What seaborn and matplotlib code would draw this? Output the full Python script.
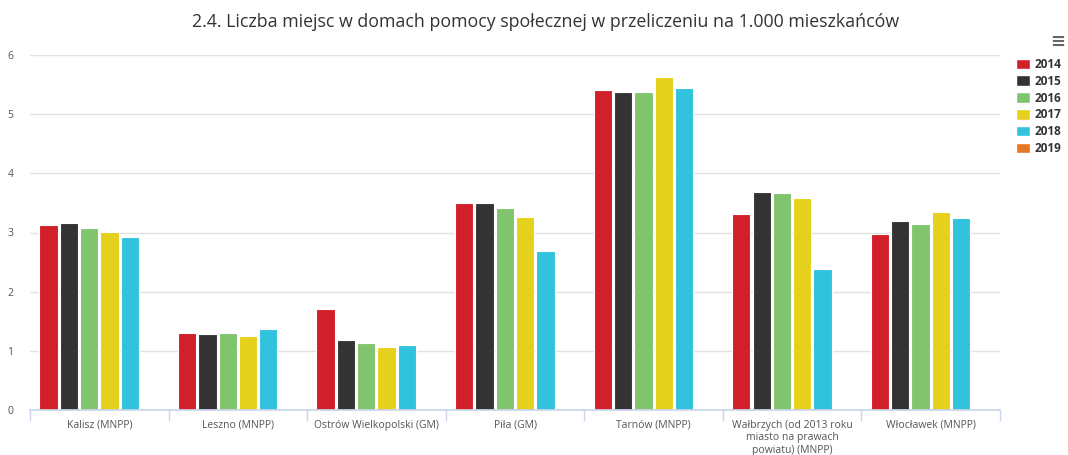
import numpy as np
import pandas as pd
import matplotlib
matplotlib.use("Agg")
import matplotlib.pyplot as plt
from matplotlib.patches import Patch
import seaborn as sns

categories = ["Kalisz (MNPP)", "Leszno (MNPP)", "Ostrów Wielkopolski (GM)", "Piła (GM)",
              "Tarnów (MNPP)", "Wałbrzych (od 2013 roku\nmiasto na prawach\npowiatu) (MNPP)",
              "Włocławek (MNPP)"]
years = ["2014", "2015", "2016", "2017", "2018", "2019"]
v2014 = [3.13, 1.30, 1.71, 3.50, 5.41, 3.31, 2.98]
v2015 = [3.16, 1.28, 1.18, 3.50, 5.37, 3.69, 3.19]
v2016 = [3.08, 1.30, 1.13, 3.41, 5.37, 3.66, 3.15]
v2017 = [3.01, 1.25, 1.06, 3.26, 5.62, 3.59, 3.34]
v2018 = [2.92, 1.37, 1.10, 2.69, 5.44, 2.38, 3.25]
v2019 = [np.nan] * 7
colors = ["#d2202a", "#333333", "#80c56d", "#e5d11c", "#31c2de", "#e87722"]
yticks = [0, 1, 2, 3, 4, 5, 6]

series = [v2014, v2015, v2016, v2017, v2018, v2019]
rows = []
for y, vals in zip(years, series):
    for c, v in zip(categories, vals):
        rows.append({"cat": c, "year": y, "value": v})
df = pd.DataFrame(rows)

sns.set_theme(style="white")
plt.rcParams["font.family"] = ["Open Sans", "DejaVu Sans"]

fig = plt.figure(figsize=(10.68, 4.55), dpi=100)
ax = fig.add_axes([30 / 1068, 45 / 455, 970 / 1068, 355 / 455])

sns.barplot(data=df, x="cat", y="value", hue="year", order=categories, hue_order=years,
            palette=colors, width=0.88, gap=0.1, legend=False, ax=ax,
            edgecolor="white", linewidth=0.8, saturation=1, errorbar=None)

ax.set_ylim(0, 6)
ax.set_xlim(-0.5, len(categories) - 0.5)
ax.set_yticks(yticks)
ax.set_yticklabels([str(t) for t in yticks], fontsize=7.5, color="#555555")
ax.grid(axis="y", color="#e3e3e3", linewidth=1)
ax.set_axisbelow(True)
for s in ["left", "right", "top"]:
    ax.spines[s].set_visible(False)
ax.spines["bottom"].set_color("#ccd6eb")
ax.tick_params(axis="y", length=0, pad=12)
ax.set_xticks(range(len(categories)))
ax.set_xticklabels(categories, fontsize=7.5, color="#555555", linespacing=1.2, va="top")
ax.set_xticks(np.arange(-0.5, len(categories)), minor=True)
ax.tick_params(axis="x", which="major", bottom=True, length=0, pad=7)
ax.tick_params(axis="x", which="minor", bottom=True, length=8, color="#ccd6eb", width=1)
ax.set_xlabel("")
ax.set_ylabel("")

fig.text(546 / 1068, 1 - 22 / 455, "2.4. Liczba miejsc w domach pomocy społecznej w przeliczeniu na 1.000 mieszkańców",
         ha="center", va="center", fontsize=12.8, color="#333333")

handles = [Patch(facecolor=c, edgecolor="white", label=y) for c, y in zip(colors, years)]
leg = fig.legend(handles=handles, loc="upper left", bbox_to_anchor=(1016 / 1068, 1 - 58 / 455),
                 frameon=False, handlelength=1.2, handleheight=1.0, handletextpad=0.4,
                 labelspacing=0.32, borderaxespad=0, borderpad=0,
                 prop={"size": 8.5, "weight": "bold"})
for t in leg.get_texts():
    t.set_color("#333333")

fig.text(1058 / 1068, 1 - 42 / 455, "≡", ha="center", va="center", fontsize=13,
         color="#666666", fontweight="bold", family="DejaVu Sans")

fig.savefig("out.png", dpi=100, facecolor="white")
